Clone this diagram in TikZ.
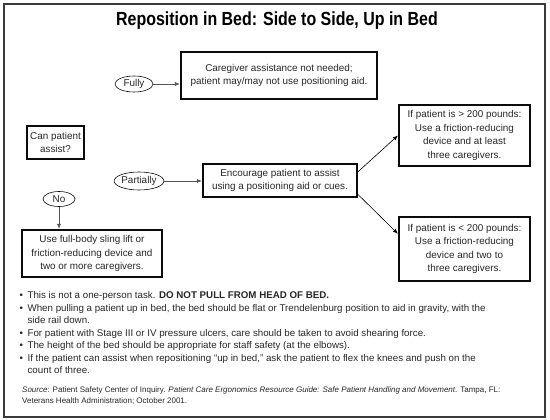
\documentclass[tikz,border=0pt]{standalone}
\usepackage{fontspec}
\setmainfont{Liberation Sans}
\usepackage{graphicx}
\usetikzlibrary{arrows.meta,positioning,calc,shapes.geometric}
\definecolor{tinta}{HTML}{0B0B0B}
\definecolor{grisTexto}{HTML}{262626}
\definecolor{marco}{HTML}{3A3A3A}
\definecolor{linea}{HTML}{555555}

\begin{document}
\begin{tikzpicture}[x=1pt,y=-1pt,
    caja/.style={draw=tinta,line width=2.2pt,inner sep=0pt,align=center,
                 font=\fontsize{9.9}{13.5}\selectfont\color{grisTexto}},
    ovalo/.style={draw=tinta,ellipse,line width=0.6pt,inner sep=0pt,
                 font=\fontsize{9.9}{11}\selectfont\color{grisTexto}},
    flecha/.style={->,line width=0.6pt},
    >={Latex[length=5pt,width=4pt]}]
  \useasboundingbox (0,0) rectangle (550,420);
  \draw[marco,line width=1.2pt] (4,4) rectangle (545,417);
  \node[font=\fontsize{19}{21}\selectfont\bfseries] (titulo) at (277,21)
    {\scalebox{0.84}[1]{Reposition in Bed: Side to Side, Up in Bed}};
  % cajas
  \node[caja,minimum width=196pt,minimum height=47pt] (cuidador) at (279,75.5)
    {Caregiver assistance not needed;\\patient may/may not use positioning aid.};
  \node[caja,minimum width=57pt,minimum height=33pt] (puede) at (55.5,142.5)
    {Can patient\\assist?};
  \node[caja,minimum width=154pt,minimum height=33pt] (anima) at (280,180.5)
    {Encourage patient to assist\\using a positioning aid or cues.};
  \node[caja,minimum width=131pt,minimum height=61pt] (mas) at (464.5,135.5)
    {If patient is > 200 pounds:\\Use a friction-reducing\\device and at least\\three caregivers.};
  \node[caja,minimum width=131pt,minimum height=64pt] (menos) at (464.5,249)
    {If patient is < 200 pounds:\\Use a friction-reducing\\device and two to\\three caregivers.};
  \node[caja,minimum width=140pt,minimum height=47pt] (eslinga) at (92,253.5)
    {Use full-body sling lift or\\friction-reducing device and\\two or more caregivers.};
  % respuestas
  \node[ovalo,minimum width=38pt,minimum height=16pt] (total) at (134,84) {Fully};
  \node[ovalo,minimum width=48pt,minimum height=18pt] (parcial) at (139,181) {Partially};
  \node[ovalo,minimum width=32pt,minimum height=15pt] (no) at (59,199) {No};
  % flechas
  \draw[flecha,linea] (total.east) -- (total.east -| cuidador.west);
  \draw[flecha,linea] (parcial.east) -- (parcial.east -| anima.west);
  \draw[flecha,linea] (no.south) -- (no.south |- eslinga.north);
  \draw[flecha] ($(anima.north east)!0.25!(anima.south east)$) -- (mas.west);
  \draw[flecha] ($(anima.north east)!0.9!(anima.south east)$)
    -- ($(menos.north west)!0.27!(menos.south west)$);
  % notas
  \node[anchor=north west,inner sep=0pt,align=left,
        font=\fontsize{9.75}{12.5}\selectfont\color{grisTexto}] (notas) at (19.5,290) {%
    \begin{tabular}{@{}l@{\hspace{4.5pt}}l@{}}
      \textbullet & This is not a one-person task. \textbf{DO NOT PULL FROM HEAD OF BED.}\\
      \textbullet & When pulling a patient up in bed, the bed should be flat or Trendelenburg position to aid in gravity, with the\\
                  & side rail down.\\
      \textbullet & For patient with Stage III or IV pressure ulcers, care should be taken to avoid shearing force.\\
      \textbullet & The height of the bed should be appropriate for staff safety (at the elbows).\\
      \textbullet & If the patient can assist when repositioning \textquotedblleft up in bed,\textquotedblright{} ask the patient to flex the knees and push on the\\
                  & count of three.
    \end{tabular}};
  \node[anchor=north west,inner sep=0pt,align=left,
        font=\fontsize{8}{10.5}\selectfont\color{grisTexto}] (fuente) at (22,387)
    {\textit{Source}: Patient Safety Center of Inquiry. \textit{Patient Care Ergonomics Resource Guide: Safe Patient Handling and Movement}. Tampa, FL:\\
     Veterans Health Administration; October 2001.};
\end{tikzpicture}
\end{document}
